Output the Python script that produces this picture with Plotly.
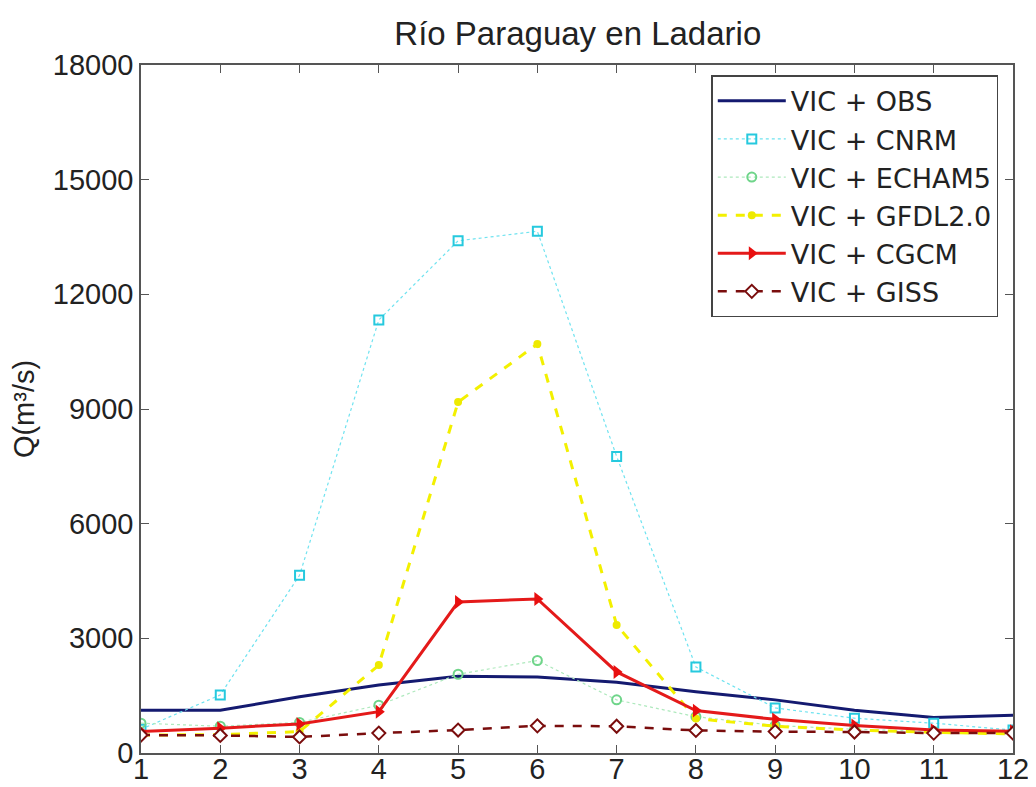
import plotly.graph_objects as go

months = [1, 2, 3, 4, 5, 6, 7, 8, 9, 10, 11, 12]
obs = [1120, 1120, 1470, 1780, 2010, 1990, 1850, 1600, 1390, 1120, 930, 990]
cnrm = [620, 1520, 4650, 11330, 13400, 13650, 7760, 2250, 1180, 910, 780, 600]
echam5 = [780, 700, 800, 1250, 2060, 2420, 1390, 950, 720, 620, 560, 520]
gfdl = [470, 480, 560, 2300, 9180, 10700, 3350, 900, 700, 600, 540, 500]
cgcm = [560, 650, 760, 1080, 3950, 4030, 2120, 1110, 880, 720, 600, 570]
giss = [470, 460, 420, 520, 600, 710, 700, 590, 560, 550, 520, 520]

y_ticks = [0, 3000, 6000, 9000, 12000, 15000, 18000]

font = "Liberation Sans, Arial, sans-serif"
legend_font = "DejaVu Sans, Liberation Sans, sans-serif"

fig = go.Figure()
fig.add_trace(go.Scatter(x=months, y=obs, name="VIC + OBS", mode="lines",
                         line=dict(color="#141a70", width=3)))
fig.add_trace(go.Scatter(x=months, y=cnrm, name="VIC + CNRM", mode="lines+markers",
                         line=dict(color="#6fe3f0", width=1.2, dash="dot"),
                         marker=dict(symbol="square-open", size=9, color="#26c9de",
                                     line=dict(width=2))))
fig.add_trace(go.Scatter(x=months, y=echam5, name="VIC + ECHAM5", mode="lines+markers",
                         line=dict(color="#aee9bd", width=1.2, dash="dot"),
                         marker=dict(symbol="circle-open", size=9, color="#6fd58a",
                                     line=dict(width=2))))
fig.add_trace(go.Scatter(x=months, y=gfdl, name="VIC + GFDL2.0", mode="lines+markers",
                         line=dict(color="#f3f000", width=3, dash="dash"),
                         marker=dict(symbol="circle", size=8, color="#eeea00")))
fig.add_trace(go.Scatter(x=months, y=cgcm, name="VIC + CGCM", mode="lines+markers",
                         line=dict(color="#e41a1a", width=3),
                         marker=dict(symbol="triangle-right", size=12, color="#e80f0f")))
fig.add_trace(go.Scatter(x=months, y=giss, name="VIC + GISS", mode="lines+markers",
                         line=dict(color="#7a0d0d", width=2.5, dash="dash"),
                         marker=dict(symbol="diamond", size=10, color="white",
                                     line=dict(color="#7a0d0d", width=2))))

axis_common = dict(showgrid=False, zeroline=False, showline=True, linecolor="#555555",
                   linewidth=1.5, mirror="ticks", ticks="inside", ticklen=8,
                   tickcolor="#555555", automargin=False,
                   tickfont=dict(family=font, size=29, color="#222222"))

fig.update_layout(
    width=1036, height=787,
    margin=dict(l=133, r=31, t=57, b=42),
    paper_bgcolor="white", plot_bgcolor="white",
    title=dict(text="Río Paraguay en Ladario", x=0.55, xanchor="center", y=0.968,
               yanchor="middle", font=dict(family=font, size=33, color="#222222")),
    xaxis=dict(range=[1, 12], tickvals=months, ticklabelstandoff=-11, **axis_common),
    yaxis=dict(range=[0, 18000], tickvals=y_ticks, ticktext=[str(v) for v in y_ticks],
               title=dict(text="Q(m³/s)", font=dict(family=font, size=29, color="#222222"),
                          standoff=12),
               **axis_common),
    legend=dict(x=0.654, y=0.985, xanchor="left", yanchor="top",
                bgcolor="white", bordercolor="#444444", borderwidth=1.5,
                font=dict(family=legend_font, size=27, color="#222222"),
                tracegroupgap=0, itemwidth=68),
    showlegend=True,
)

fig.write_html("out.html")
